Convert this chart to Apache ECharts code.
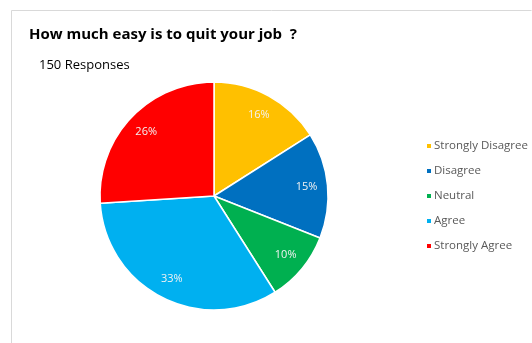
<!DOCTYPE html>
<html>
<head>
<meta charset="utf-8">
<script src="https://cdn.jsdelivr.net/npm/echarts@6/dist/echarts.min.js"></script>
<style>
  html, body { margin: 0; padding: 0; background: #fff; }
  #chart { width: 532px; height: 343px; }
</style>
</head>
<body>
<div id="chart"></div>
<script>
// Survey answers, in percent of 150 responses
const categories = ['Strongly Disagree', 'Disagree', 'Neutral', 'Agree', 'Strongly Agree'];
const shares = [16, 15, 10, 33, 26];
const colors = ['#FFC000', '#0070C0', '#00B050', '#00B0F0', '#FF0000'];

const titleText = 'How much easy is to quit your job  ?';
const subtitleText = '150 Responses';

const font = '"Open Sans", "Noto Sans", sans-serif';
const center = [214, 196];
const R = 114;

const sliceData = categories.map((name, i) => ({
  name, value: shares[i], itemStyle: { color: colors[i] }
}));

const chart = echarts.init(document.getElementById('chart'), null, { renderer: 'canvas' });
chart.setOption({
  animation: false,
  backgroundColor: '#ffffff',
  title: [
    {
      text: titleText, left: 24, top: 22,
      textStyle: { fontFamily: font, fontSize: 15, fontWeight: 'bold', color: '#000000' }
    },
    {
      text: subtitleText, left: 34, top: 54,
      textStyle: { fontFamily: font, fontSize: 13, fontWeight: 'normal', color: '#000000' }
    }
  ],
  legend: {
    orient: 'vertical',
    left: 420, top: 135,
    itemWidth: 6, itemHeight: 6, itemGap: 13,
    icon: 'rect',
    data: categories,
    textStyle: { fontFamily: font, fontSize: 11.5, color: '#595959', padding: [0, 0, 0, -3] }
  },
  graphic: [
    {
      type: 'polyline',
      shape: { points: [[11.5, 360], [11.5, 10.5], [531.5, 10.5]] },
      style: { stroke: '#d9d9d9', lineWidth: 1, fill: null },
      silent: true
    }
  ],
  series: [
    {
      type: 'pie',
      center, radius: [0, R],
      startAngle: 90, clockwise: true,
      data: sliceData,
      label: { show: false },
      labelLine: { show: false },
      itemStyle: { borderColor: '#ffffff', borderWidth: 1.5 },
      emphasis: { disabled: true }
    },
    {
      // transparent ring that carries the percentage labels
      type: 'pie',
      center, radius: [66, R],
      startAngle: 90, clockwise: true,
      silent: true,
      data: categories.map((name, i) => ({ name, value: shares[i] })),
      itemStyle: { color: 'rgba(0,0,0,0)', borderWidth: 0 },
      label: {
        show: true, position: 'inside',
        formatter: p => p.value + '%',
        fontFamily: font, fontSize: 11, color: '#f2f2f2'
      },
      labelLine: { show: false },
      emphasis: { disabled: true }
    }
  ]
});
</script>
</body>
</html>
